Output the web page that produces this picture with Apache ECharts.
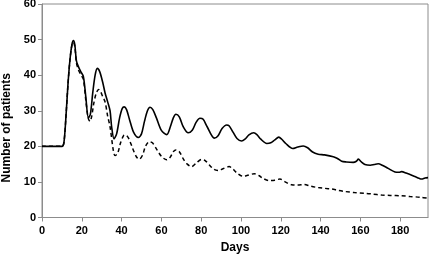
<!DOCTYPE html>
<html>
<head>
<meta charset="utf-8">
<script src="https://cdn.jsdelivr.net/npm/echarts@6/dist/echarts.min.js"></script>
<style>
	html,body{margin:0;padding:0;background:#fff;}
	#chartBox{width:430px;height:254px;}
</style>
</head>
<body>
<div id="chartBox"></div>
<script>
// axis ticks
const xTicks = [0, 20, 40, 60, 80, 100, 120, 140, 160, 180];
const yTicks = [0, 10, 20, 30, 40, 50, 60];

// solid line: [day, patients]
const solidDays = [0,10,11,12,13,14,15,15.8,16.5,17.3,18.3,19.5,20.8,22,23.3,24.3,25.5,26.7,27.8,29,30.5,31.7,33,34.2,35,36.2,37.5,39,40.3,41.3,42.5,44,46,48.4,50,51.5,53,54.3,55.7,57.5,60,62.7,64.5,66,67.3,69,71,73.5,75.5,77.5,79.4,81,83,86.6,88.5,90.5,92.8,94,96,98,100.3,102,104,106.4,108,110,113,115,117,119,120.5,122.5,126,128.5,131.3,133.5,136,138.8,142,146.4,148.5,150.6,153,156.4,158,159,160.5,162.3,165,167,169,171,174,177.4,179.5,180.7,183,187.4,189.5,190.8,192.5,194];
const solidVals = [20,20,21,28,37,44,48.5,49.7,48.5,44,42.4,41,39.6,34,28,29,35,40,41.9,41,38,35,32.5,30,25.5,22.1,23.5,28,30.6,31.1,30.3,27.5,24,22.5,23.5,27,30,31,30.3,28,24.5,23.3,25.5,28,29,28.3,25.5,23.8,24.5,26.8,27.9,27.6,25.5,22.3,23,25,26,25.8,24,22.2,21.5,22,23.2,23.8,23.3,22,20.8,21,21.8,22.6,22,20.8,19.4,19.8,20.1,19.6,18.4,17.8,17.6,17.1,16.6,15.8,15.6,15.5,15.8,16.4,15.6,14.9,14.7,14.9,15.1,14.7,13.8,12.8,12.7,12.9,12.5,11.5,11,10.8,11.1,11.2];

// dashed line: [day, patients]
const dashDays = [0,10,11,12,13,14,15,15.8,16.5,17.3,18.3,19.5,20.8,22,23.2,24.1,25,26,27.3,28.5,29.5,30.5,31.7,33,34.2,35.8,36.7,38,39.5,41,42,43.5,45.5,47.5,48.9,50.5,52,53.9,55.5,57.5,60,62.7,64.5,66,67.3,69,71,73,75.2,77.5,80.2,82,84,86.5,88.6,91,94,96,98,101,103,106.7,109,111,114,117,119.6,122,125.5,128.5,131.8,135,138.8,142,145.6,149,152.3,157,162.3,166,170.7,175,180.7,185,190,194];
const dashVals = [20,20,21,28,37,44,48.3,49.3,48,43.5,41.5,40.2,38.8,33,28,27,28.5,32,35,36,35.3,34,32.5,28.5,25.5,19,17.4,18,21,23,23.2,22.3,19.5,17,16.4,17.5,20,21.3,21,19.3,17.2,16.2,17,18.5,19,18.5,16.5,15,14.3,15.3,16.3,16,14.8,13.5,13.2,13.7,14.3,13.6,12.5,11.6,11.8,12.3,11.8,11,10.4,10.5,10.8,10.1,9.2,9.1,9.3,8.8,8.4,8.2,8,7.6,7.3,7,6.8,6.6,6.3,6.2,6.1,5.9,5.7,5.4];

const pair = (xs, ys) => xs.map((d, i) => [d, ys[i]]);

let myChart = echarts.init(document.getElementById('chartBox'));
const labelFont = {color:'#000', fontSize:11, fontWeight:'bold', fontFamily:'Liberation Sans'};
let option = {
	backgroundColor:'#fff',
	animation:false,
	grid:{left:42, right:2, top:4, bottom:36.5, outerBoundsMode:'none', containLabel:false,
		show:true, borderColor:'#8c8c8c', borderWidth:1},
	xAxis:{
		type:'value', min:xTicks[0], max:194, interval:20,
		name:'Days', nameLocation:'middle', nameGap:21,
		nameTextStyle:{color:'#000', fontSize:12, fontWeight:'bold', fontFamily:'Liberation Sans'},
		axisLine:{lineStyle:{color:'#8c8c8c'}},
		axisTick:{inside:false, length:4, lineStyle:{color:'#8c8c8c'}},
		axisLabel:Object.assign({margin:8, showMaxLabel:false}, labelFont),
		splitLine:{show:false}
	},
	yAxis:{
		type:'value', min:yTicks[0], max:yTicks[yTicks.length-1], interval:10,
		name:'Number of patients', nameLocation:'middle', nameGap:28,
		nameTextStyle:{color:'#000', fontSize:12, fontWeight:'bold', fontFamily:'Liberation Sans', padding:[0,34,0,0]},
		axisLine:{show:true, lineStyle:{color:'#8c8c8c'}},
		axisTick:{show:true, inside:false, length:4, lineStyle:{color:'#8c8c8c'}},
		axisLabel:Object.assign({margin:6}, labelFont),
		splitLine:{show:false}
	},
	series:[
		{type:'line', data:pair(solidDays, solidVals), smooth:0.3, showSymbol:false,
			lineStyle:{color:'#000', width:1.6}},
		{type:'line', data:pair(dashDays, dashVals), smooth:0.3, showSymbol:false,
			lineStyle:{color:'#000', width:1.5, type:[4,3]}}
	]
};
myChart.setOption(option, true);
</script>
</body>
</html>
